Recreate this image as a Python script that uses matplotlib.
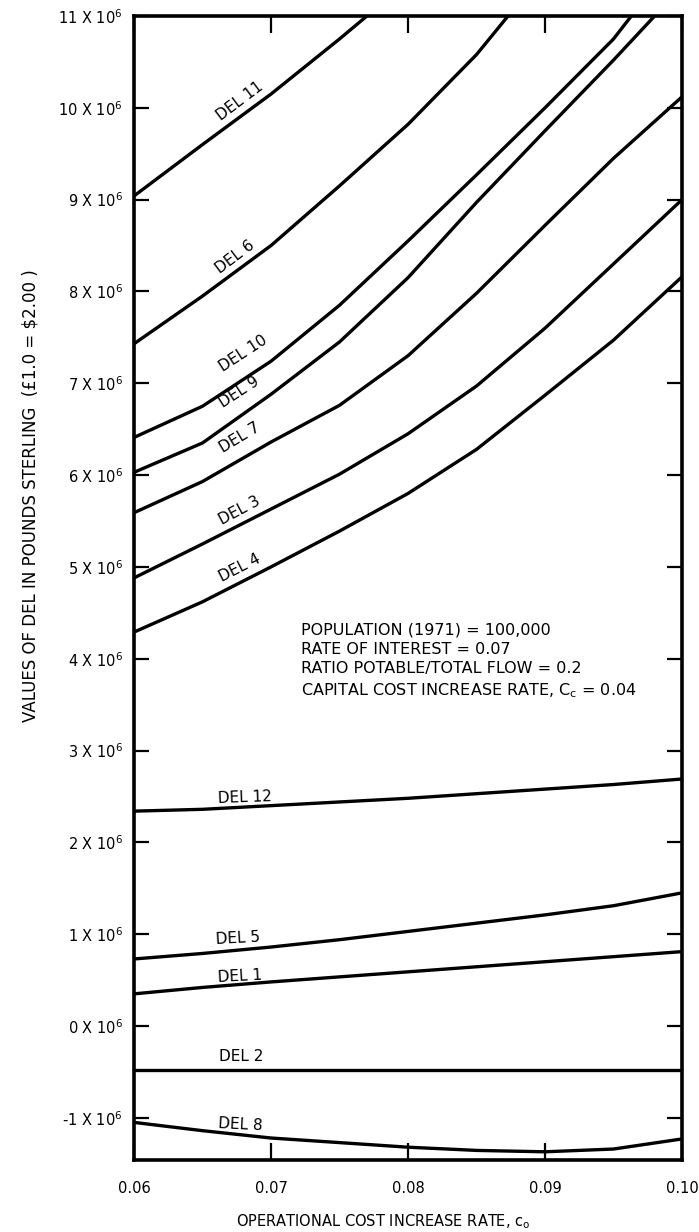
import matplotlib
matplotlib.use('Agg')
from matplotlib import pyplot as plt

plt.rcParams['font.family'] = ['DejaVu Sans']
plt.rcParams['mathtext.default'] = 'regular'

# operational cost increase rate (x) and DEL values in units of 10^6 pounds
rates = [0.06, 0.065, 0.07, 0.075, 0.08, 0.085, 0.09, 0.095, 0.10]

del11_x = [0.06, 0.065, 0.07, 0.075, 0.077]
del11 = [9.04, 9.6, 10.15, 10.75, 11.0]
del6_x = [0.06, 0.065, 0.07, 0.075, 0.08, 0.085, 0.0873]
del6 = [7.43, 7.95, 8.5, 9.15, 9.82, 10.58, 11.0]
del10_x = [0.06, 0.065, 0.07, 0.075, 0.08, 0.085, 0.09, 0.095, 0.0963]
del10 = [6.41, 6.75, 7.24, 7.85, 8.55, 9.27, 10.0, 10.75, 11.0]
del9_x = [0.06, 0.065, 0.07, 0.075, 0.08, 0.085, 0.09, 0.095, 0.098]
del9 = [6.03, 6.35, 6.88, 7.45, 8.15, 8.97, 9.75, 10.52, 11.0]
del7 = [5.59, 5.93, 6.36, 6.76, 7.3, 7.98, 8.72, 9.45, 10.12]
del3 = [4.88, 5.25, 5.63, 6.01, 6.45, 6.97, 7.6, 8.3, 9.0]
del4 = [4.29, 4.62, 5.0, 5.39, 5.8, 6.28, 6.87, 7.47, 8.16]
del12 = [2.34, 2.36, 2.40, 2.44, 2.48, 2.53, 2.58, 2.63, 2.69]
del5 = [0.73, 0.79, 0.86, 0.94, 1.03, 1.12, 1.21, 1.31, 1.45]
del1 = [0.35, 0.42, 0.48, 0.535, 0.59, 0.645, 0.70, 0.755, 0.81]
del2 = [-0.48, -0.48, -0.48, -0.48, -0.48, -0.48, -0.48, -0.48, -0.48]
del8 = [-1.05, -1.14, -1.22, -1.27, -1.32, -1.355, -1.37, -1.34, -1.23]

# curve labels: (text, x, y, angle)
labels = [
    ('DEL 11', 0.0677, 10.07, 37),
    ('DEL 6', 0.0674, 8.38, 37),
    ('DEL 10', 0.0680, 7.32, 33),
    ('DEL 9', 0.0677, 6.90, 33),
    ('DEL 7', 0.0677, 6.41, 31),
    ('DEL 3', 0.0677, 5.61, 28),
    ('DEL 4', 0.0677, 4.99, 27),
    ('DEL 12', 0.0681, 2.49, 2),
    ('DEL 5', 0.0676, 0.95, 3),
    ('DEL 1', 0.0677, 0.54, 3),
    ('DEL 2', 0.0678, -0.33, 0),
    ('DEL 8', 0.0678, -1.08, -3),
]

yticks = list(range(-1, 12))
xticks = [0.06, 0.07, 0.08, 0.09, 0.10]

fig = plt.figure(figsize=(6.99, 12.32), dpi=100)
ax = fig.add_axes([0.1917, 0.0584, 0.784, 0.9286])

lw = 2.4
for xs, ys in [(del11_x, del11), (del6_x, del6), (del10_x, del10), (del9_x, del9),
               (rates, del7), (rates, del3), (rates, del4), (rates, del12),
               (rates, del5), (rates, del1), (rates, del2), (rates, del8)]:
    ax.plot(xs, ys, color='black', lw=lw, solid_capstyle='butt')

for txt, x, y, ang in labels:
    ax.text(x, y, txt, fontsize=11, rotation=ang, ha='center', va='center',
            rotation_mode='anchor')

ax.set_xlim(0.06, 0.10)
ax.set_ylim(-1.46, 11)

ax.set_yticks(yticks)
ax.set_yticklabels([f'{v} X 10$^6$' for v in yticks])
ax.set_xticks(xticks)
ax.set_xticklabels([f'{v:.2f}' for v in xticks])

ax.tick_params(axis='y', direction='in', length=11, width=1.6, left=True, right=True,
               labelsize=10.5, pad=8)
ax.tick_params(axis='x', direction='in', length=12, width=1.6, top=True, bottom=True,
               labelsize=10.5, pad=15)
for s in ax.spines.values():
    s.set_linewidth(2.6)

ax.set_xlabel('OPERATIONAL COST INCREASE RATE, c$_o$', fontsize=10.5)
ax.xaxis.set_label_coords(0.454, -0.0455)
fig.text(0.043, 0.598, 'VALUES OF DEL IN POUNDS STERLING  (\u00a31.0 = \\$2.00 )',
         rotation=90, ha='center', va='center', fontsize=12)

ax.text(0.0722, 4.39,
        'POPULATION (1971) = 100,000\n'
        'RATE OF INTEREST = 0.07\n'
        'RATIO POTABLE/TOTAL FLOW = 0.2\n'
        'CAPITAL COST INCREASE RATE, C$_c$ = 0.04',
        fontsize=11.5, ha='left', va='top', linespacing=1.35)

fig.savefig('out.png', dpi=100)
